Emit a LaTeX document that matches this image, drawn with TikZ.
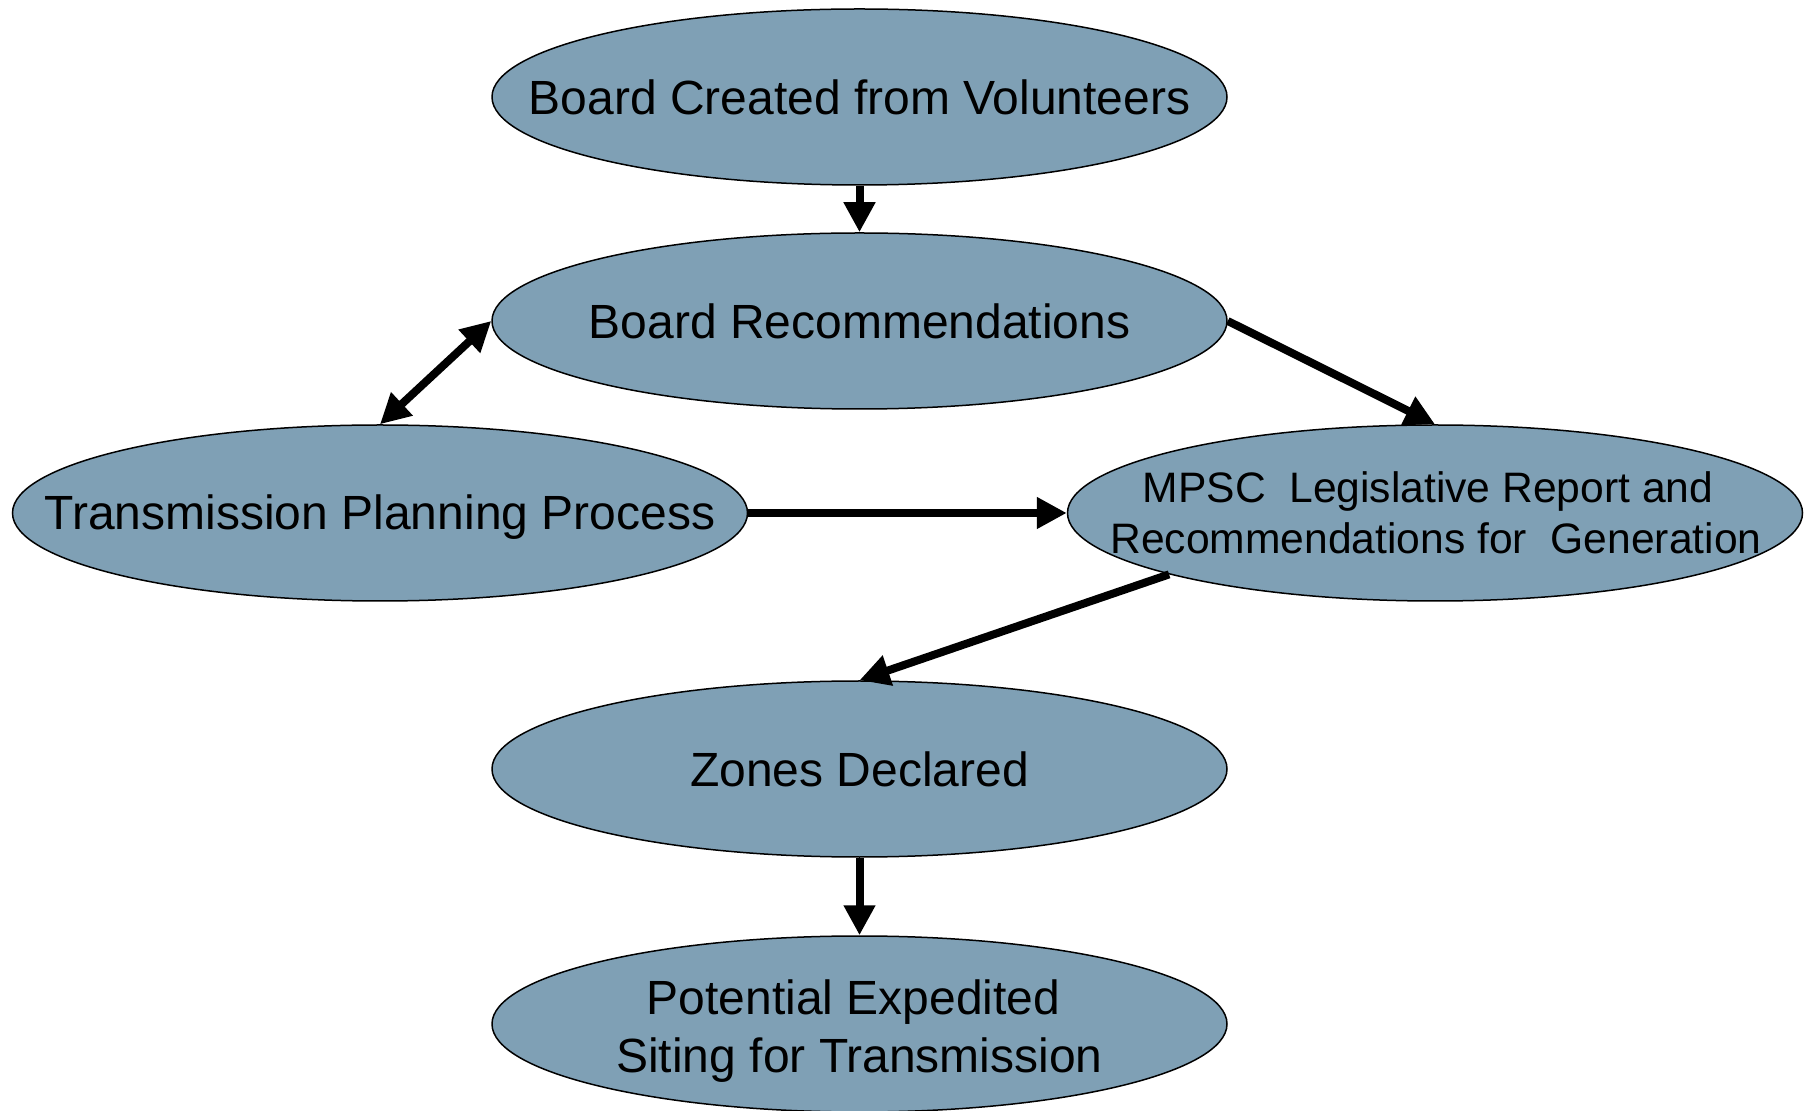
\documentclass[tikz,border=0pt]{standalone}
\usepackage{fontspec}
\setmainfont{Liberation Sans}
\usetikzlibrary{shapes.geometric,arrows.meta}
\definecolor{ellfill}{RGB}{127,160,181}
\begin{document}
\begin{tikzpicture}[x=0.5pt,y=-0.5pt,
  ell/.style={ellipse, draw=black, line width=0.75pt, fill=ellfill,
    minimum width=367.5pt, minimum height=88pt, inner sep=0pt},
  lbl/.style={align=center, inner sep=0pt, font=\fontsize{24}{29}\selectfont},
  conn/.style={line width=4pt, -{Triangle[length=15pt,width=15pt]}},
  dconn/.style={line width=4pt, {Triangle[length=15pt,width=15pt]}-{Triangle[length=15pt,width=15pt]}}]
\useasboundingbox (0,0) rectangle (1815,1111);
\fill[white] (0,0) rectangle (1815,1111);

\node[ell] (e1) at (859.5,97) {};
\node[ell] (e2) at (859.5,321) {};
\node[ell] (e3) at (380,513) {};
\node[ell] (e4) at (1435,513) {};
\node[ell] (e5) at (859.5,769) {};
\node[ell] (e6) at (859.5,1024) {};

\node[lbl] (t1) at (e1.center) {Board Created from Volunteers};
\node[lbl] (t2) at (e2.center) {Board Recommendations};
\node[lbl] (t3) at ([yshift=-2pt]e3.center) {Transmission Planning Process};
\node[lbl, font=\fontsize{21.3}{25.5}\selectfont] (t4) at ([xshift=0.5pt]e4.center) {\hspace*{-8pt}MPSC\ \ Legislative Report and\\Recommendations for\ \ Generation};
\node[lbl] (t5) at (e5.center) {Zones Declared};
\node[lbl] (t6) at ([yshift=-3.5pt]e6.center) {\hspace*{-6pt}Potential Expedited\\ Siting for Transmission};

\draw[conn] (e1.south) -- (e2.north);
\draw[dconn] (e2.west) -- (e3.north);
\draw[conn] (e2.east) -- (e4.north);
\draw[conn] (e3.east) -- (e4.west);
\draw[conn] (e4.193.4) -- (e5.north);
\draw[conn] (e5.south) -- (e6.north);
\end{tikzpicture}
\end{document}
